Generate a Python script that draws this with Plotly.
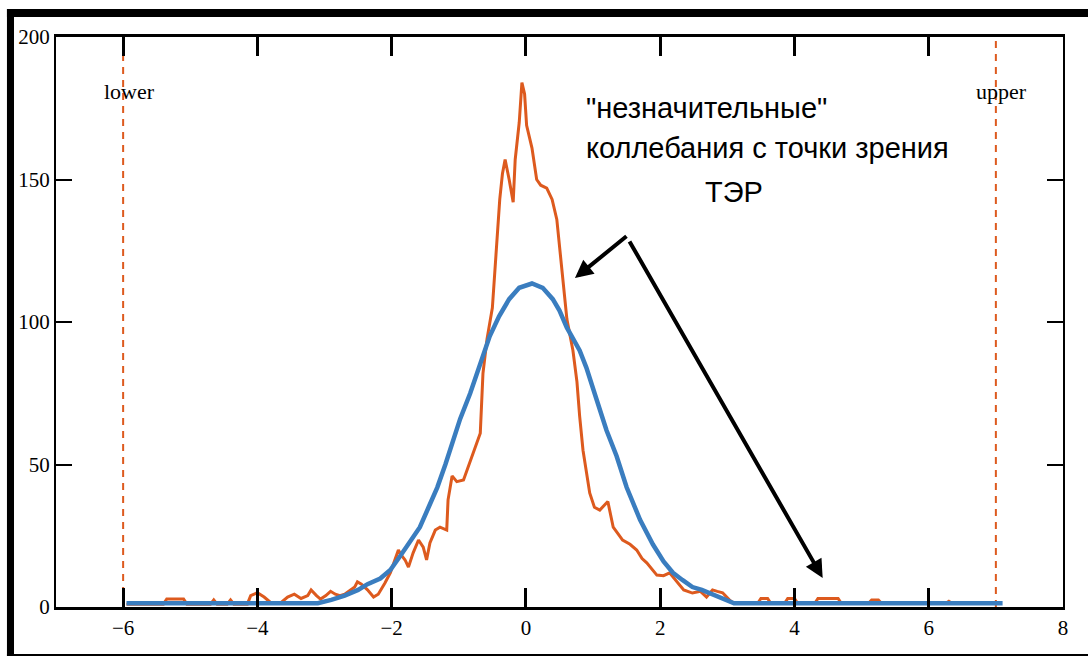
import plotly.graph_objects as go

# empirical distribution (orange)
orange_x = [-5.95, -5.4, -5.35, -5.1, -5.05, -4.7, -4.65, -4.6, -4.45, -4.4, -4.35, -4.15, -4.1, -4.0, -3.9,
            -3.8, -3.65, -3.55, -3.45, -3.35, -3.25, -3.2, -3.12, -3.06, -2.98, -2.91, -2.84, -2.77, -2.7,
            -2.62, -2.55, -2.51, -2.45, -2.36, -2.3, -2.27, -2.2, -2.17, -2.1, -2.02, -1.95, -1.9, -1.85,
            -1.8, -1.75, -1.68, -1.6, -1.53, -1.48, -1.43, -1.35, -1.28, -1.18, -1.16, -1.1, -1.03, -0.93,
            -0.86, -0.76, -0.68, -0.64, -0.58, -0.5, -0.46, -0.42, -0.39, -0.35, -0.31, -0.25, -0.19, -0.16,
            -0.1, -0.06, -0.02, 0.01, 0.05, 0.09, 0.16, 0.22, 0.31, 0.39, 0.46, 0.5, 0.55, 0.61, 0.7, 0.76,
            0.8, 0.85, 0.95, 1.02, 1.1, 1.22, 1.3, 1.44, 1.55, 1.65, 1.73, 1.8, 1.95, 2.05, 2.14, 2.26, 2.35,
            2.48, 2.6, 2.69, 2.78, 2.85, 2.93, 3.03, 3.1, 3.45, 3.5, 3.6, 3.65, 3.85, 3.9, 4.0, 4.05, 4.3,
            4.35, 4.65, 4.7, 5.1, 5.15, 5.25, 5.3, 6.25, 6.3, 6.35, 7.0]
orange_y = [1, 1, 2.8, 2.8, 1, 1, 2.5, 1, 1, 2.5, 1, 1, 4, 5, 3.5,
            1.5, 1.5, 3.5, 4.5, 3, 4, 6, 4, 2.8, 4, 5.5, 4.5, 4, 4.5,
            6, 7, 8.8, 8, 6, 4.5, 3.5, 4.5, 5.6, 8.4, 12, 16.5, 20, 18,
            16.5, 14, 19, 23.5, 21, 16.5, 22.5, 27, 28, 27, 37.6, 46, 44, 44.6,
            49, 56, 61, 82, 94, 105, 120, 131, 143, 152, 157, 150, 142, 157,
            170, 184, 180, 169, 165, 161, 150, 148, 147, 143, 136, 127, 115, 101, 90, 79,
            67, 55, 40, 35, 34, 37, 28, 23.5, 22, 20, 17, 15.5, 11.2, 11, 12, 8.4, 6,
            4.9, 5.5, 3.5, 6, 5.5, 5, 2.5, 1.2, 1.2, 3, 3, 1.2, 1.2, 3, 3, 1.2, 1.2,
            3, 3, 1.2, 1.2, 2.5, 2.5, 1.2, 1.2, 2, 1.2, 1.2]

# fitted normal curve (blue)
blue_x = [-5.95, -3.1, -2.9, -2.7, -2.5, -2.36, -2.17, -2.02, -1.87, -1.72, -1.58, -1.45, -1.32, -1.2,
          -1.13, -0.98, -0.83, -0.68, -0.54, -0.4, -0.25, -0.1, 0.09, 0.25, 0.4, 0.5, 0.61, 0.8, 0.9,
          1.05, 1.2, 1.35, 1.5, 1.7, 1.89, 2.05, 2.19, 2.33, 2.48, 2.62, 2.74, 2.88, 2.99, 3.1, 7.1]
blue_y = [1.3, 1.3, 2.5, 4, 6, 8, 10, 13, 18, 23, 28, 35, 42, 50,
          55, 66, 75, 86, 95, 102, 108, 112, 113.5, 112, 108, 104, 98, 90, 84,
          73, 62, 53, 42, 30.6, 22, 16, 12, 9.5, 7, 6, 4.9, 3.5, 2.5, 1.3, 1.3]

limits_x = [-6, 7]
limit_labels = ["lower", "upper"]
x_ticks = [-6, -4, -2, 0, 2, 4, 6, 8]
y_ticks = [0, 50, 100, 150, 200]
note_lines = ['"незначительные"', "коллебания с точки зрения", "ТЭР"]

ORANGE = "#dd5a1e"
BLUE = "#3a7dbf"

fig = go.Figure()
for lx in limits_x:
    fig.add_trace(go.Scatter(x=[lx, lx], y=[0, 200], mode="lines",
                             line=dict(color=ORANGE, width=2, dash="7px,6px"),
                             showlegend=False, hoverinfo="skip"))
fig.add_trace(go.Scatter(x=orange_x, y=orange_y, mode="lines",
                         line=dict(color=ORANGE, width=3), showlegend=False))
fig.add_trace(go.Scatter(x=blue_x, y=blue_y, mode="lines",
                         line=dict(color=BLUE, width=4.5), showlegend=False))

tickfont = dict(family="Liberation Serif", size=21, color="black")
fig.update_layout(
    width=1088, height=656,
    margin=dict(l=56, r=25, t=37, b=49),
    paper_bgcolor="white", plot_bgcolor="white",
    xaxis=dict(range=[-7, 8], tickvals=x_ticks, ticktext=[("−" + str(-v)) if v < 0 else str(v) for v in x_ticks],
               ticks="inside", ticklen=19, tickwidth=3, tickcolor="black",
               showline=True, linecolor="black", linewidth=3, mirror="allticks",
               showgrid=False, zeroline=False, tickfont=tickfont, ticklabelstandoff=0),
    yaxis=dict(range=[0, 200], tickvals=y_ticks,
               ticks="inside", ticklen=16, tickwidth=2, tickcolor="black",
               showline=True, linecolor="black", linewidth=2, mirror="allticks",
               showgrid=False, zeroline=False, tickfont=tickfont, ticklabelstandoff=0),
)

# outer frame (black bars)
fig.add_shape(type="rect", xref="paper", yref="paper", x0=-0.0487, x1=1.03, y0=1.0351, y1=1.0491,
              fillcolor="black", line=dict(width=0), layer="above")
fig.add_shape(type="rect", xref="paper", yref="paper", x0=-0.0487, x1=-0.0417, y0=-0.0860, y1=1.0491,
              fillcolor="black", line=dict(width=0), layer="above")
fig.add_shape(type="rect", xref="paper", yref="paper", x0=-0.0487, x1=1.03, y0=-0.0860, y1=-0.0825,
              fillcolor="black", line=dict(width=0), layer="above")

# limit labels
for lx, lab in zip(limits_x, limit_labels):
    fig.add_annotation(x=lx + 0.09, y=181, xref="x", yref="y", text=lab, showarrow=False,
                       font=dict(family="Liberation Serif", size=22, color="black"))

# text note
note_pos = [(0.5243, 0.8754), (0.5243, 0.8053), (0.6425, 0.7281)]
for txt, (px, py) in zip(note_lines, note_pos):
    fig.add_annotation(x=px, y=py, xref="paper", yref="paper", text=txt, showarrow=False,
                       xanchor="left", yanchor="middle",
                       font=dict(family="Liberation Sans", size=29, color="black"))

# arrows
arrow_heads = [(0.73, 115.4), (4.42, 10.2)]
arrow_tails = [(1.52, 130.5), (1.53, 128.8)]
for (hx, hy), (tx, ty) in zip(arrow_heads, arrow_tails):
    fig.add_annotation(x=hx, y=hy, ax=tx, ay=ty, xref="x", yref="y", axref="x", ayref="y",
                       text="", showarrow=True, arrowhead=2, arrowsize=0.9, arrowwidth=4,
                       arrowcolor="black")

fig.write_html("out.html")
